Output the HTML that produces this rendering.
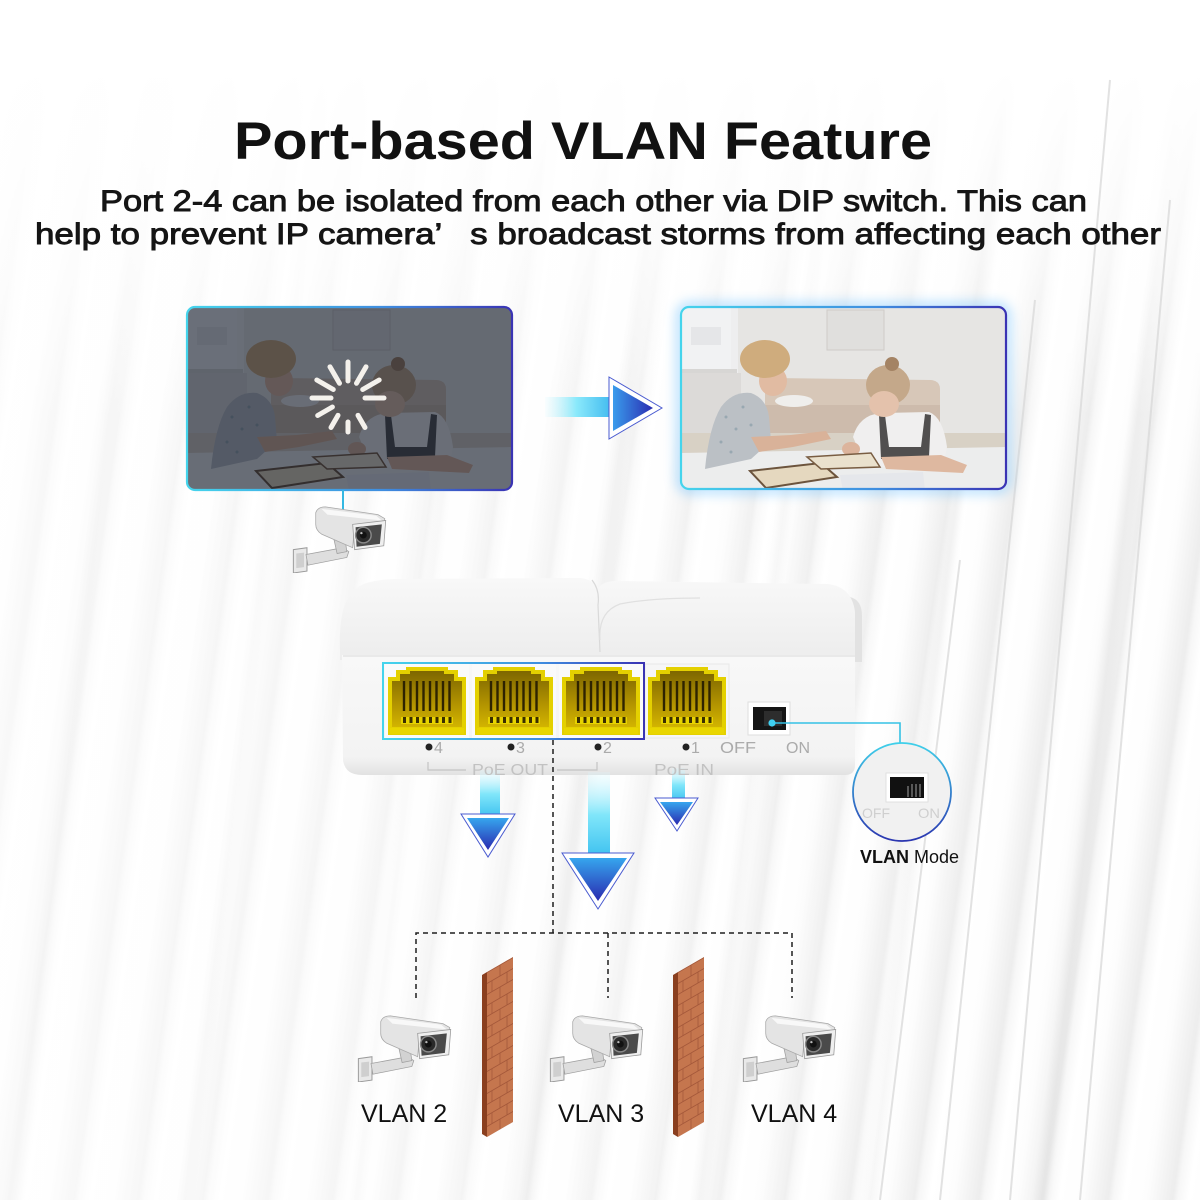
<!DOCTYPE html>
<html><head><meta charset="utf-8">
<style>
html,body{margin:0;padding:0;}
body{width:1200px;height:1200px;overflow:hidden;position:relative;background:#fff;}
#bg{position:absolute;left:0;top:0;width:1200px;height:1200px;
background:
linear-gradient(180deg,#fff 0px,#fff 70px,rgba(255,255,255,0.6) 260px,rgba(255,255,255,0) 420px),
repeating-linear-gradient(97deg,rgba(0,0,0,0) 0px,rgba(0,0,0,0) 150px,rgba(0,0,0,0.035) 160px,rgba(0,0,0,0) 170px),
repeating-linear-gradient(98deg,#fff 0px,#fdfdfd 22px,#f3f3f3 38px,#ededed 48px,#f7f7f7 53px,#fff 64px);}
#bg2{position:absolute;left:0;top:0;width:1200px;height:1200px;
background:linear-gradient(90deg,rgba(255,255,255,0.6) 0px,rgba(255,255,255,0.35) 600px,rgba(255,255,255,0) 1000px);}
svg{position:absolute;left:0;top:0;}
</style></head>
<body>
<div id="bg"></div><div id="bg2"></div>
<svg width="1200" height="1200" viewBox="0 0 1200 1200" xmlns="http://www.w3.org/2000/svg">
<defs>
 <linearGradient id="bord" x1="0" y1="0" x2="1" y2="0">
  <stop offset="0" stop-color="#45d4ec"/><stop offset="0.6" stop-color="#3f8ee0"/><stop offset="1" stop-color="#3a33b4"/>
 </linearGradient>
 <linearGradient id="bordc" x1="0" y1="0" x2="0" y2="1">
  <stop offset="0" stop-color="#3fd0ea"/><stop offset="1" stop-color="#2a35b0"/>
 </linearGradient>
 <linearGradient id="hshaft" x1="0" y1="0" x2="1" y2="0">
  <stop offset="0" stop-color="#c8f6ff" stop-opacity="0.1"/><stop offset="0.45" stop-color="#8ae9fb"/><stop offset="1" stop-color="#3ab6ee"/>
 </linearGradient>
 <linearGradient id="hhead" x1="0" y1="0" x2="1" y2="0">
  <stop offset="0" stop-color="#3a9cec"/><stop offset="1" stop-color="#2a2db2"/>
 </linearGradient>
 <linearGradient id="vshaft" x1="0" y1="0" x2="0" y2="1">
  <stop offset="0" stop-color="#d8f8ff" stop-opacity="0.2"/><stop offset="0.5" stop-color="#80e6fa"/><stop offset="1" stop-color="#3cc0ef"/>
 </linearGradient>
 <linearGradient id="vhead" x1="0" y1="0" x2="0" y2="1">
  <stop offset="0" stop-color="#36a6ee"/><stop offset="1" stop-color="#2a2ab0"/>
 </linearGradient>
 <linearGradient id="portin" x1="0" y1="0" x2="0" y2="1">
  <stop offset="0" stop-color="#7d6600"/><stop offset="0.6" stop-color="#b39400"/><stop offset="1" stop-color="#d2b400"/>
 </linearGradient>
 <linearGradient id="topsurf" x1="0" y1="0" x2="0" y2="1">
  <stop offset="0" stop-color="#f8f8f8"/><stop offset="1" stop-color="#ededed"/>
 </linearGradient>
 <linearGradient id="frontsurf" x1="0" y1="0" x2="0" y2="1">
  <stop offset="0" stop-color="#f8f8f8"/><stop offset="0.85" stop-color="#f3f3f3"/><stop offset="1" stop-color="#e2e2e2"/>
 </linearGradient>
 <filter id="blur6"><feGaussianBlur stdDeviation="6"/></filter>
 <clipPath id="clipL"><rect x="187" y="307" width="325" height="183" rx="8"/></clipPath>
 <clipPath id="clipR"><rect x="681" y="307" width="325" height="182" rx="8"/></clipPath>
 <pattern id="brick" width="26" height="22" patternUnits="userSpaceOnUse">
  <rect width="26" height="22" fill="#c5764e"/>
  <line x1="0" y1="0.5" x2="26" y2="0.5" stroke="#a4583a" stroke-width="1"/>
  <line x1="0" y1="11.5" x2="26" y2="11.5" stroke="#a4583a" stroke-width="1"/>
  <line x1="13" y1="0" x2="13" y2="11" stroke="#a4583a" stroke-width="0.8"/>
  <line x1="5" y1="11" x2="5" y2="22" stroke="#a4583a" stroke-width="0.8"/>
  <line x1="20" y1="11" x2="20" y2="22" stroke="#a4583a" stroke-width="0.8"/>
 </pattern>

 <g id="scene">
  <rect width="326" height="184" fill="#e7e5e1"/>
  <rect x="0" y="0" width="52" height="66" fill="#f4f4f3"/>
  <rect x="10" y="20" width="30" height="18" fill="#e6e6e6"/>
  <rect x="50" y="0" width="7" height="130" fill="#f1f0ee"/>
  <rect x="0" y="62" width="56" height="4" fill="#d6d4d0"/>
  <rect x="0" y="66" width="60" height="66" fill="#dcd9d4"/>
  <rect x="146" y="3" width="57" height="40" fill="#e1deda" stroke="#cdc8c2" stroke-width="1"/>
  <rect x="0" y="126" width="326" height="20" fill="#d8cebf"/>
  <path d="M84 80 Q84 71 92 71 L250 73 Q259 74 259 82 L259 126 L84 126 Z" fill="#d6c3b0"/>
  <rect x="84" y="98" width="175" height="28" fill="#cbb6a2"/>
  <ellipse cx="113" cy="94" rx="19" ry="6" fill="#f2efeb"/>
  <path d="M0 146 L326 140 L326 184 L0 184 Z" fill="#eeeeec"/>
  <path d="M24 162 Q28 120 40 100 Q52 84 70 86 Q86 92 88 110 L90 134 L70 152 Z" fill="#b7bbbf"/>
  <g fill="#8fa0a8"><circle cx="45" cy="110" r="1.5"/><circle cx="55" cy="122" r="1.5"/><circle cx="40" cy="135" r="1.5"/><circle cx="62" cy="100" r="1.5"/><circle cx="70" cy="118" r="1.5"/><circle cx="50" cy="145" r="1.5"/></g>
  <path d="M70 130 L110 128 L145 124 L150 132 L112 140 L78 145 Z" fill="#d9ab8c"/>
  <ellipse cx="92" cy="74" rx="14" ry="15" fill="#e2b597"/>
  <ellipse cx="84" cy="52" rx="25" ry="19" fill="#cda46d"/>
  <path d="M172 130 Q178 108 200 106 L248 105 Q262 110 266 140 L262 160 L185 160 Z" fill="#f3f1ee"/>
  <path d="M198 108 L204 108 L208 140 L240 140 L244 107 L250 108 L248 150 L200 152 Z" fill="#3e3b38"/>
  <path d="M200 150 L260 148 L286 158 L282 166 L205 162 Z" fill="#dfb294"/>
  <ellipse cx="170" cy="142" rx="9" ry="7" fill="#dcae90"/>
  <ellipse cx="207" cy="78" rx="22" ry="20" fill="#c1a07b"/>
  <ellipse cx="203" cy="97" rx="15" ry="13" fill="#e5bea2"/>
  <circle cx="211" cy="57" r="7" fill="#9c7650"/>
  <path d="M69 164 L140 156 L156 170 L85 181 Z" fill="#e6d7b8" stroke="#5d4024" stroke-width="2"/>
  <path d="M126 150 L190 146 L199 160 L140 162 Z" fill="#ece1c8" stroke="#6b4a2a" stroke-width="1.5"/>
  <path d="M159 168 L242 165 L244 184 L162 184 Z" fill="#e6e7ea"/>
 </g>

 <symbol id="cam" viewBox="0 0 100 72">
  <path d="M1 48 L15 46 L15 70 L1 72 Z" fill="#e9e9e9" stroke="#9a9a9a" stroke-width="1"/>
  <path d="M4 52 L12 51 L12 66 L4 67 Z" fill="#cfcfcf"/>
  <path d="M14 53 L52 46 L58 50 L56 56 L16 64 Z" fill="#dedede" stroke="#a0a0a0" stroke-width="0.8"/>
  <path d="M42 34 L54 36 L56 50 L46 52 Z" fill="#d2d2d2" stroke="#a0a0a0" stroke-width="0.8"/>
  <path d="M24 10 Q26 4 34 4 L88 12 L95 16 L94 26 L64 24 L62 46 L30 32 Q24 28 24 22 Z" fill="#e4e4e4" stroke="#a8a8a8" stroke-width="0.8"/>
  <path d="M30 6 L86 13 L92 18 L36 12 Z" fill="#f8f8f8"/>
  <path d="M62 22 L96 18 L94 44 L64 48 Z" fill="#efefef" stroke="#999" stroke-width="0.8"/>
  <path d="M65 25 L92 22 L90 42 L66 45 Z" fill="#4a4a4a"/>
  <circle cx="73" cy="33" r="8" fill="#2a2a2a" stroke="#888" stroke-width="1.5"/>
  <circle cx="73" cy="33" r="3.5" fill="#111"/>
  <circle cx="71" cy="31" r="1.2" fill="#bbb"/>
 </symbol>

 <g id="port">
  <path d="M0 10 L8 10 L8 3 L18 3 L18 0 L60 0 L60 3 L70 3 L70 10 L78 10 L78 68 L0 68 Z" fill="#e4d000"/>
  <path d="M4 14 L12 14 L12 7 L22 7 L22 4 L56 4 L56 7 L66 7 L66 14 L74 14 L74 60 L4 60 Z" fill="url(#portin)"/>
  <g stroke="#2e2300" stroke-width="2.4">
   <line x1="16" y1="14" x2="16" y2="44"/><line x1="22.5" y1="14" x2="22.5" y2="44"/>
   <line x1="29" y1="14" x2="29" y2="44"/><line x1="35.5" y1="14" x2="35.5" y2="44"/>
   <line x1="42" y1="14" x2="42" y2="44"/><line x1="48.5" y1="14" x2="48.5" y2="44"/>
   <line x1="55" y1="14" x2="55" y2="44"/><line x1="61.5" y1="14" x2="61.5" y2="44"/>
  </g>
  <rect x="13" y="50" width="52" height="7" fill="#e8d400"/>
  <g fill="#3a2e00">
   <rect x="15" y="50" width="3" height="6"/><rect x="21.5" y="50" width="3" height="6"/>
   <rect x="28" y="50" width="3" height="6"/><rect x="34.5" y="50" width="3" height="6"/>
   <rect x="41" y="50" width="3" height="6"/><rect x="47.5" y="50" width="3" height="6"/>
   <rect x="54" y="50" width="3" height="6"/><rect x="60.5" y="50" width="3" height="6"/>
  </g>
  <rect x="2" y="61" width="74" height="6" fill="#e9d600"/>
 </g>
</defs>

<!-- right-side background stronger stripes -->
<g stroke="#d9d9d9" stroke-width="2" opacity="0.75">
 <line x1="1010" y1="1200" x2="1110" y2="80"/>
 <line x1="1080" y1="1200" x2="1170" y2="200"/>
 <line x1="940" y1="1200" x2="1035" y2="300"/>
 <line x1="880" y1="1200" x2="960" y2="560"/>
</g>

<!-- TITLE -->
<text x="234" y="159" font-family="Liberation Sans, Arial, sans-serif" font-weight="bold" font-size="53" fill="#111" textLength="698" lengthAdjust="spacingAndGlyphs">Port-based VLAN Feature</text>
<text x="100" y="211" font-family="Liberation Sans, Arial, sans-serif" font-size="30" fill="#151515" stroke="#151515" stroke-width="0.9" textLength="987" lengthAdjust="spacingAndGlyphs">Port 2-4 can be isolated from each other via DIP switch. This can</text>
<text x="35" y="244" font-family="Liberation Sans, Arial, sans-serif" font-size="30" fill="#151515" stroke="#151515" stroke-width="0.9" textLength="1126" lengthAdjust="spacingAndGlyphs" xml:space="preserve">help to prevent IP camera’   s broadcast storms from affecting each other</text>

<!-- PHOTOS -->
<rect x="681" y="307" width="325" height="182" rx="8" fill="none" stroke="#5ab8ff" stroke-width="8" opacity="0.55" filter="url(#blur6)"/>
<g clip-path="url(#clipL)">
 <use href="#scene" transform="translate(187,307)"/>
 <rect x="187" y="307" width="325" height="183" fill="#1c2434" opacity="0.64"/>
</g>
<g clip-path="url(#clipR)">
 <use href="#scene" transform="translate(681,307)"/>
 <rect x="681" y="307" width="325" height="182" fill="#dbe8f5" opacity="0.12"/>
</g>
<rect x="187" y="307" width="325" height="183" rx="8" fill="none" stroke="url(#bord)" stroke-width="2.2"/>
<rect x="681" y="307" width="325" height="182" rx="8" fill="none" stroke="url(#bord)" stroke-width="2.2"/>

<!-- spinner -->
<g transform="translate(348,398)" stroke="#f4f1ec" stroke-width="5" stroke-linecap="round">
 <line x1="0" y1="-17" x2="0" y2="-36"/>
 <line x1="0" y1="-17" x2="0" y2="-36" transform="rotate(30)"/>
 <line x1="0" y1="-17" x2="0" y2="-36" transform="rotate(60)"/>
 <line x1="0" y1="-17" x2="0" y2="-36" transform="rotate(90)"/>
 <line x1="0" y1="-20" x2="0" y2="-34" transform="rotate(150)"/>
 <line x1="0" y1="-24" x2="0" y2="-34" transform="rotate(180)"/>
 <line x1="0" y1="-20" x2="0" y2="-34" transform="rotate(210)"/>
 <line x1="0" y1="-18" x2="0" y2="-35" transform="rotate(240)"/>
 <line x1="0" y1="-17" x2="0" y2="-36" transform="rotate(270)"/>
 <line x1="0" y1="-17" x2="0" y2="-36" transform="rotate(300)"/>
 <line x1="0" y1="-17" x2="0" y2="-36" transform="rotate(330)"/>
</g>

<!-- horizontal arrow -->
<rect x="545" y="397" width="70" height="20" fill="url(#hshaft)"/>
<polygon points="609,377 662,408 609,439" fill="#fff" stroke="#4a5bd0" stroke-width="1"/>
<polygon points="613,385 653,408 613,431" fill="url(#hhead)"/>

<!-- camera link -->
<line x1="343" y1="490" x2="343" y2="514" stroke="#35b8e2" stroke-width="2"/>
<use href="#cam" x="292" y="503" width="98" height="70"/>

<!-- DEVICE -->
<path d="M832 598 L850 597 Q862 600 862 616 L862 662 L832 662 Z" fill="#e2e2e2"/>
<path d="M340 650 Q338 600 358 587 Q368 580 395 579 L580 578 Q592 579 598 588 Q604 581 615 581 L828 584 Q852 587 855 612 L855 660 L340 660 Z" fill="url(#topsurf)"/>
<path d="M592 580 Q600 590 598 605 L600 652" fill="none" stroke="#d9d9d9" stroke-width="1.2"/>
<path d="M600 640 Q598 612 620 604 Q650 598 700 598" fill="none" stroke="#e0e0e0" stroke-width="1.2"/>
<path d="M342 655 L855 655 L855 765 Q855 775 845 775 L362 775 Q345 775 343 760 Z" fill="url(#frontsurf)"/>
<line x1="343" y1="656" x2="855" y2="656" stroke="#e4e4e4" stroke-width="1.5"/>

<!-- ports -->
<rect x="385" y="664" width="84" height="74" fill="#fafafa"/>
<rect x="472" y="664" width="84" height="74" fill="#fafafa"/>
<rect x="559" y="664" width="84" height="74" fill="#fafafa"/>
<rect x="645" y="664" width="84" height="74" fill="#f6f6f6" stroke="#e8e8e8"/>
<use href="#port" transform="translate(388,667)"/>
<use href="#port" transform="translate(475,667)"/>
<use href="#port" transform="translate(562,667)"/>
<use href="#port" transform="translate(648,667)"/>
<rect x="383" y="663" width="261" height="76" fill="none" stroke="url(#bord)" stroke-width="2"/>

<!-- switch -->
<rect x="748" y="702" width="42" height="33" fill="#fff" stroke="#dedede"/>
<rect x="753" y="707" width="33" height="23" fill="#151515"/>
<rect x="764" y="711" width="18" height="15" fill="#2d2d2d"/>
<polyline points="772,723 900,723 900,744" fill="none" stroke="#35c2e5" stroke-width="1.6"/>
<circle cx="772" cy="723" r="3.6" fill="#3fd0f0"/>

<!-- labels on device -->
<g font-family="Liberation Sans, Arial, sans-serif" font-size="16" fill="#ababab">
 <circle cx="429" cy="747" r="3.5" fill="#222"/><text x="434" y="753">4</text>
 <circle cx="511" cy="747" r="3.5" fill="#222"/><text x="516" y="753">3</text>
 <circle cx="598" cy="747" r="3.5" fill="#222"/><text x="603" y="753">2</text>
 <circle cx="686" cy="747" r="3.5" fill="#222"/><text x="691" y="753">1</text>
 <text x="720" y="753" textLength="36" lengthAdjust="spacingAndGlyphs">OFF</text>
 <text x="786" y="753" textLength="24" lengthAdjust="spacingAndGlyphs">ON</text>
</g>

<!-- down arrows -->
<rect x="480" y="770" width="20" height="48" fill="url(#vshaft)"/>
<polygon points="461,814 515,814 488,857" fill="#fff" stroke="#4a5bd0" stroke-width="1"/>
<polygon points="467,818 509,818 488,850" fill="url(#vhead)"/>
<rect x="588" y="772" width="22" height="86" fill="url(#vshaft)"/>
<polygon points="562,853 634,853 598,909" fill="#fff" stroke="#4a5bd0" stroke-width="1"/>
<polygon points="569,858 627,858 598,901" fill="url(#vhead)"/>
<rect x="672" y="768" width="13" height="34" fill="url(#vshaft)"/>
<polygon points="655,798 698,798 677,831" fill="#fff" stroke="#4a5bd0" stroke-width="1"/>
<polygon points="660,802 693,802 677,825" fill="url(#vhead)"/>

<g font-family="Liberation Sans, Arial, sans-serif" font-size="16" fill="#c2c2c2">
 <polyline points="428,762 428,770 466,770" fill="none" stroke="#c4c4c4" stroke-width="1.2"/>
 <text x="472" y="775" textLength="76" lengthAdjust="spacingAndGlyphs">PoE  OUT</text>
 <polyline points="557,770 597,770 597,762" fill="none" stroke="#c4c4c4" stroke-width="1.2"/>
 <text x="654" y="775" textLength="60" lengthAdjust="spacingAndGlyphs">PoE  IN</text>
</g>

<!-- VLAN Mode circle -->
<circle cx="902" cy="792" r="49" fill="#f1f1f1" stroke="url(#bordc)" stroke-width="1.8"/>
<rect x="886" y="773" width="42" height="29" fill="#fff" stroke="#e0e0e0"/>
<rect x="890" y="777" width="34" height="21" fill="#111"/>
<g stroke="#888" stroke-width="1.2"><line x1="908" y1="786" x2="908" y2="797"/><line x1="912" y1="784" x2="912" y2="797"/><line x1="916" y1="784" x2="916" y2="797"/><line x1="920" y1="784" x2="920" y2="797"/></g>
<g font-family="Liberation Sans, Arial, sans-serif" font-size="14" fill="#cfcfcf">
 <text x="862" y="818" textLength="28" lengthAdjust="spacingAndGlyphs">OFF</text>
 <text x="918" y="818" textLength="22" lengthAdjust="spacingAndGlyphs">ON</text>
</g>
<text x="860" y="863" font-family="Liberation Sans, Arial, sans-serif" font-size="18" fill="#111"><tspan font-weight="bold">VLAN</tspan> Mode</text>

<!-- dashed tree -->
<g stroke="#1e1e1e" stroke-width="1.5" stroke-dasharray="5 4" fill="none">
 <line x1="553" y1="740" x2="553" y2="933"/>
 <polyline points="416,998 416,933 792,933 792,998"/>
 <line x1="608" y1="933" x2="608" y2="998"/>
</g>

<!-- walls -->
<polygon points="482,975 487,972 487,1137 482,1134" fill="#8a3f1f"/>
<g transform="translate(487,972) skewY(-30)"><rect x="0" y="0" width="26" height="165" fill="url(#brick)"/></g>
<polygon points="673,975 678,972 678,1137 673,1134" fill="#8a3f1f"/>
<g transform="translate(678,972) skewY(-30)"><rect x="0" y="0" width="26" height="165" fill="url(#brick)"/></g>

<!-- cameras -->
<use href="#cam" x="357" y="1012" width="98" height="70"/>
<use href="#cam" x="549" y="1012" width="98" height="70"/>
<use href="#cam" x="742" y="1012" width="98" height="70"/>

<g font-family="Liberation Sans, Arial, sans-serif" font-size="25" fill="#111">
 <text x="361" y="1122">VLAN 2</text>
 <text x="558" y="1122">VLAN 3</text>
 <text x="751" y="1122">VLAN 4</text>
</g>
</svg>
</body></html>
